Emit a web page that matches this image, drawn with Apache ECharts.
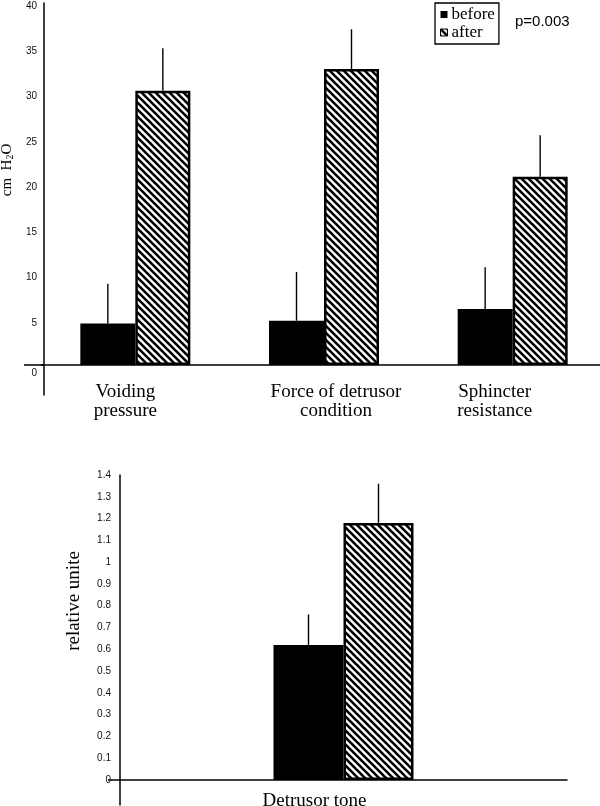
<!DOCTYPE html>
<html>
<head>
<meta charset="utf-8">
<script src="https://cdn.jsdelivr.net/npm/echarts@6/dist/echarts.min.js"></script>
<style>
  html, body { margin: 0; padding: 0; background: #fff; }
  #chart { width: 600px; height: 806px; }
</style>
</head>
<body>
<div id="chart"></div>
<script>
// ---- data ----
const categoriesTop = ['Voiding\npressure', 'Force of detrusor\ncondition', 'Sphincter\nresistance'];
const beforeTop = [4.6, 4.9, 6.2];
const beforeTopSD = [4.4, 5.4, 4.6];
const afterTop = [30.3, 32.7, 20.8];
const afterTopSD = [4.7, 4.4, 4.6];
const yTicksTop = [0, 5, 10, 15, 20, 25, 30, 35, 40];

const categoriesBottom = ['Detrusor tone'];
const beforeBottom = [0.62];
const beforeBottomSD = [0.14];
const afterBottom = [1.18];
const afterBottomSD = [0.18];
const yTicksBottom = [0, 0.1, 0.2, 0.3, 0.4, 0.5, 0.6, 0.7, 0.8, 0.9, 1, 1.1, 1.2, 1.3, 1.4];

const legendNames = ['before', 'after'];
const pValueText = 'p=0.003';

// ---- styles ----
const serif = 'Liberation Serif';
const sans = 'Liberation Sans';
const labelShiftTop = [-10, 12, -18];
const labelShiftBottom = [-29];
const barWTop = 55;
const barWBottom = 70;

// hatch pattern "\\\\"
function makeHatch() {
  const n = 7;
  const c = document.createElement('canvas');
  c.width = n; c.height = n;
  const g = c.getContext('2d');
  g.fillStyle = '#fff';
  g.fillRect(0, 0, n, n);
  g.strokeStyle = '#000';
  g.lineWidth = 2.6;
  for (let k = -1; k <= 1; k++) {
    g.beginPath();
    g.moveTo(-1, k * n - 1);
    g.lineTo(n + 1, n + k * n + 1);
    g.stroke();
  }
  return c;
}
const hatch = { image: makeHatch(), repeat: 'repeat' };

function richShift(shifts, prefix) {
  const r = {};
  shifts.forEach((s, i) => {
    r[prefix + i] = {
      fontFamily: serif, fontSize: 19, color: '#000', lineHeight: 19,
      padding: s < 0 ? [0, -2 * s, 0, 0] : [0, 0, 0, 2 * s]
    };
  });
  return r;
}

function errSeries(xi, yi, means, sds, side, bw) {
  return {
    type: 'custom',
    xAxisIndex: xi, yAxisIndex: yi,
    z: 5,
    silent: true,
    data: means.map((m, i) => [i, m, sds[i]]),
    encode: { x: 0, y: 1 },
    renderItem: function (params, api) {
      const i = api.value(0), m = api.value(1), s = api.value(2);
      const p0 = api.coord([i, m]);
      const p1 = api.coord([i, m + s]);
      const off = side * bw / 2;
      return {
        type: 'line',
        shape: { x1: p0[0] + off, y1: p0[1], x2: p1[0] + off, y2: p1[1] },
        style: { stroke: '#000', lineWidth: 1.4 }
      };
    }
  };
}

const chart = echarts.init(document.getElementById('chart'), null, { renderer: 'canvas' });

const option = {
  animation: false,
  backgroundColor: '#fff',
  legend: {
    orient: 'vertical',
    left: 435, top: 3,
    padding: [3, 4, 3, 5],
    itemWidth: 7, itemHeight: 7, itemGap: 1,
    borderColor: '#000', borderWidth: 1.3,
    icon: 'rect',
    selectedMode: false,
    textStyle: { fontFamily: serif, fontSize: 17, color: '#000', padding: [0, 0, 0, -1] },
    data: [
      { name: legendNames[0], itemStyle: { color: '#000', borderWidth: 0 } },
      { name: legendNames[1], itemStyle: { color: hatch, borderColor: '#000', borderWidth: 1 } }
    ]
  },
  graphic: [{
    type: 'text', left: 515, top: 14,
    style: { text: pValueText, fontFamily: sans, fontSize: 15, fill: '#000' }
  }],
  grid: [
    { left: 41, top: 3, width: 566, height: 392, outerBoundsMode: 'none', containLabel: false },
    { left: 120, top: 475, width: 447, height: 330, outerBoundsMode: 'none', containLabel: false }
  ],
  xAxis: [
    {
      type: 'category', gridIndex: 0, data: categoriesTop,
      axisLine: { onZero: true, lineStyle: { color: '#000', width: 1.5 } },
      axisTick: { show: false },
      axisLabel: {
        margin: -12, interval: 0,
        formatter: function (v, i) {
          return v.split('\n').map(t => '{s' + i + '|' + t + '}').join('\n');
        },
        rich: richShift(labelShiftTop, 's')
      }
    },
    {
      type: 'category', gridIndex: 1, data: categoriesBottom,
      axisLine: { onZero: true, lineStyle: { color: '#000', width: 1.5 } },
      axisTick: { show: false },
      axisLabel: {
        margin: -13, interval: 0,
        formatter: function (v, i) { return '{b' + i + '|' + v + '}'; },
        rich: richShift(labelShiftBottom, 'b')
      }
    }
  ],
  yAxis: [
    {
      type: 'value', gridIndex: 0, min: -3.3, max: 40, offset: -3,
      splitLine: { show: false },
      axisLine: { show: true, onZero: false, lineStyle: { color: '#000', width: 1.5 } },
      axisTick: { show: true, customValues: [0], length: 20, inside: false, lineStyle: { color: '#000', width: 1.5 } },
      axisLabel: {
        customValues: yTicksTop, margin: 7,
        formatter: function (v) { return v === 0 ? '{z|0}' : '{n|' + v + '}'; },
        rich: {
          z: { fontFamily: sans, fontSize: 10, color: '#111', padding: [16, 0, 0, 0] },
          n: { fontFamily: sans, fontSize: 10, color: '#111', padding: [6, 0, 0, 0] }
        }
      },
      name: '{a|cm  H}{s|2}{a|O}',
      nameLocation: 'middle', nameRotate: 90, nameGap: 26,
      nameTextStyle: {
        padding: [0, 0, 0, 58],
        rich: {
          a: { fontFamily: serif, fontSize: 15, color: '#000' },
          s: { fontFamily: serif, fontSize: 10, color: '#000', verticalAlign: 'bottom', padding: [6, 0, 0, 0] }
        }
      }
    },
    {
      type: 'value', gridIndex: 1, min: -0.115, max: 1.4,
      splitLine: { show: false },
      axisLine: { show: true, onZero: false, lineStyle: { color: '#000', width: 1.5 } },
      axisTick: { show: true, customValues: [0], length: 12, lineStyle: { color: '#000', width: 1.5 } },
      axisLabel: {
        customValues: yTicksBottom, margin: 9,
        fontFamily: sans, fontSize: 10, color: '#111'
      },
      name: 'relative unite',
      nameLocation: 'middle', nameRotate: 90, nameGap: 36,
      nameTextStyle: { fontFamily: serif, fontSize: 19, color: '#000', padding: [0, 0, 0, 78] }
    }
  ],
  series: [
    {
      name: legendNames[0], type: 'bar', xAxisIndex: 0, yAxisIndex: 0,
      data: beforeTop, barWidth: barWTop, barGap: '0%',
      itemStyle: { color: '#000' }
    },
    {
      name: legendNames[1], type: 'bar', xAxisIndex: 0, yAxisIndex: 0,
      data: afterTop, barWidth: barWTop, barGap: '0%',
      itemStyle: { color: hatch, borderColor: '#000', borderWidth: 2.5 }
    },
    {
      name: legendNames[0], type: 'bar', xAxisIndex: 1, yAxisIndex: 1,
      data: beforeBottom, barWidth: barWBottom, barGap: '0%',
      itemStyle: { color: '#000' }
    },
    {
      name: legendNames[1], type: 'bar', xAxisIndex: 1, yAxisIndex: 1,
      data: afterBottom, barWidth: barWBottom, barGap: '0%',
      itemStyle: { color: hatch, borderColor: '#000', borderWidth: 2.5 }
    },
    errSeries(0, 0, beforeTop, beforeTopSD, -1, barWTop),
    errSeries(0, 0, afterTop, afterTopSD, 1, barWTop),
    errSeries(1, 1, beforeBottom, beforeBottomSD, -1, barWBottom),
    errSeries(1, 1, afterBottom, afterBottomSD, 1, barWBottom)
  ]
};
chart.setOption(option);
</script>
</body>
</html>
